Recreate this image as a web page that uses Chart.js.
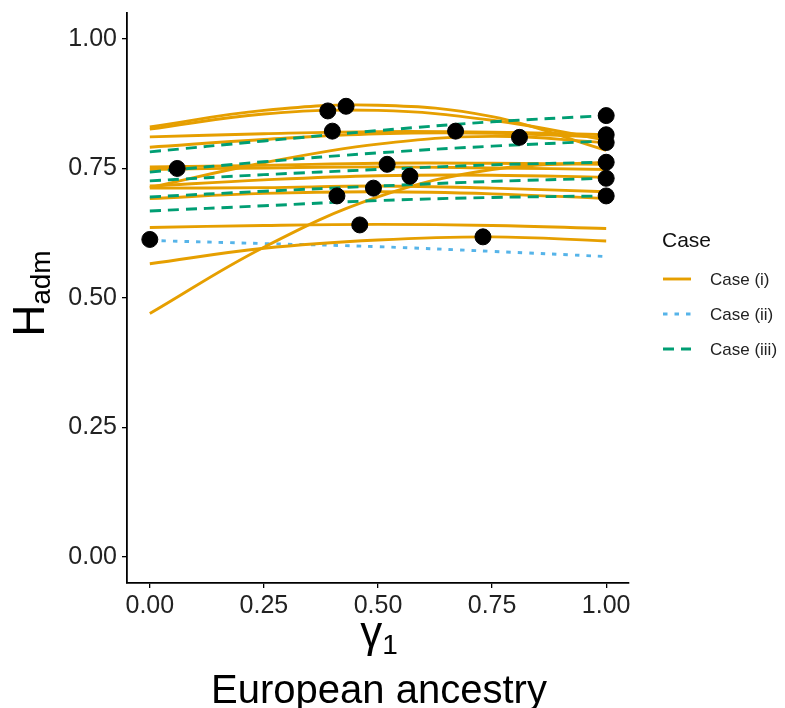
<!DOCTYPE html>
<html>
<head>
<meta charset="utf-8">
<script src="https://cdn.jsdelivr.net/npm/chart.js@4.4.1/dist/chart.umd.min.js"></script>
<style>
  html, body { margin: 0; padding: 0; background: #ffffff; }
  #wrap { width: 785px; height: 708px; position: relative; }
</style>
</head>
<body>
<div id="wrap"><canvas id="c" width="785" height="708"></canvas></div>
<script>
// ---- data ----
const xGrid = [0, 0.25, 0.5, 0.75, 1];           // x positions where curves were read
const xTicks = [0, 0.25, 0.5, 0.75, 1];
const yTicks = [0, 0.25, 0.5, 0.75, 1];

// Case (i) curves (values at xGrid)
const caseI = [
  [0.830, 0.862, 0.872, 0.850, 0.785],
  [0.826, 0.855, 0.862, 0.843, 0.805],
  [0.811, 0.817, 0.821, 0.820, 0.815],
  [0.791, 0.806, 0.817, 0.818, 0.810],
  [0.713, 0.761, 0.797, 0.812, 0.800],
  [0.753, 0.756, 0.760, 0.760, 0.758],
  [0.748, 0.751, 0.753, 0.751, 0.748],
  [0.716, 0.728, 0.736, 0.737, 0.733],
  [0.712, 0.713, 0.716, 0.712, 0.705],
  [0.692, 0.702, 0.705, 0.701, 0.692],
  [0.636, 0.640, 0.642, 0.640, 0.634],
  [0.566, 0.596, 0.612, 0.618, 0.610],
  [0.470, 0.598, 0.695, 0.748, 0.762]
];
// Case (ii) curve
const caseII = [
  [0.611, 0.605, 0.599, 0.590, 0.580]
];
// Case (iii) curves
const caseIII = [
  [0.782, 0.803, 0.823, 0.840, 0.852],
  [0.743, 0.763, 0.780, 0.793, 0.803],
  [0.726, 0.738, 0.748, 0.757, 0.762],
  [0.695, 0.706, 0.716, 0.725, 0.731],
  [0.668, 0.678, 0.688, 0.694, 0.697]
];
// observed populations (points)
const pointX = [0, 0.06, 0.39, 0.40, 0.43, 0.41, 0.46, 0.49, 0.52, 0.57, 0.67, 0.73, 0.81, 1, 1, 1, 1, 1, 1];
const pointY = [0.613, 0.750, 0.861, 0.822, 0.870, 0.697, 0.641, 0.712, 0.758, 0.735, 0.822, 0.618, 0.810, 0.852, 0.815, 0.800, 0.762, 0.731, 0.697];

const caseLabels = ['Case (i)', 'Case (ii)', 'Case (iii)'];

// ---- styles ----
const FONT = '"Liberation Sans", Arimo, Arial, sans-serif';
const styles = [
  { color: '#E69F00', dash: [] },
  { color: '#56B4E9', dash: [4.5, 7] },
  { color: '#009E73', dash: [11, 7] }
];
const LINE_W = 2.9;

function toPts(arr) { return arr.map((v, i) => ({ x: xGrid[i], y: v })); }

const datasets = [];
[caseI, caseII, caseIII].forEach((group, gi) => {
  group.forEach((vals, k) => {
    datasets.push({
      type: 'line',
      label: caseLabels[gi],
      data: toPts(vals),
      borderColor: styles[gi].color,
      borderDash: styles[gi].dash,
      borderWidth: LINE_W,
      borderCapStyle: 'butt',
      pointRadius: 0,
      pointHoverRadius: 0,
      tension: 0.4,
      fill: false,
      order: gi === 2 ? 1 : 2
    });
  });
});
datasets.push({
  type: 'scatter',
  label: 'Populations',
  data: pointX.map((x, i) => ({ x: x, y: pointY[i] })),
  backgroundColor: '#000000',
  borderColor: '#000000',
  pointRadius: 8,
  pointHoverRadius: 8,
  order: 0
});

// ---- custom drawing of axis titles and legend ----
const decorPlugin = {
  id: 'decor',
  afterDraw(chart) {
    const ctx = chart.ctx;
    ctx.save();
    ctx.fillStyle = '#000000';
    ctx.textBaseline = 'alphabetic';

    // y title: H with subscript adm, rotated
    const yMid = 293.5;
    ctx.save();
    ctx.translate(44, yMid);
    ctx.rotate(-Math.PI / 2);
    ctx.font = '44px ' + FONT;
    const wH = ctx.measureText('H').width;
    ctx.font = '28px ' + FONT;
    const wS = ctx.measureText('adm').width;
    const tot = wH + wS;
    ctx.textAlign = 'left';
    ctx.font = '44px ' + FONT;
    ctx.fillText('H', -tot / 2, 0);
    ctx.font = '28px ' + FONT;
    ctx.fillText('adm', -tot / 2 + wH, 6);
    ctx.restore();

    // x title: gamma with subscript 1, then European ancestry
    const xMid = 379;
    ctx.font = '44px ' + FONT;
    const wG = ctx.measureText('\u03b3').width;
    ctx.font = '28px ' + FONT;
    const w1 = ctx.measureText('1').width;
    const tg = wG + w1;
    ctx.textAlign = 'left';
    ctx.font = '44px ' + FONT;
    ctx.fillText('\u03b3', xMid - tg / 2, 647);
    ctx.font = '28px ' + FONT;
    ctx.fillText('1', xMid - tg / 2 + wG, 654);

    ctx.textAlign = 'center';
    ctx.font = '40px ' + FONT;
    ctx.fillText('European ancestry', xMid, 703);

    // legend
    ctx.textAlign = 'left';
    ctx.textBaseline = 'middle';
    ctx.font = '21px ' + FONT;
    ctx.fillStyle = '#111111';
    ctx.fillText('Case', 662, 241);
    ctx.font = '17px ' + FONT;
    caseLabels.forEach((lab, i) => {
      const y = 279 + i * 35;
      ctx.strokeStyle = styles[i].color;
      ctx.lineWidth = LINE_W;
      ctx.setLineDash(styles[i].dash);
      ctx.beginPath();
      ctx.moveTo(663, y);
      ctx.lineTo(691, y);
      ctx.stroke();
      ctx.setLineDash([]);
      ctx.fillStyle = '#222222';
      ctx.fillText(lab, 710, y + 1);
    });
    ctx.restore();
  }
};

const tickFmt = v => Number(v).toFixed(2);

new Chart(document.getElementById('c'), {
  data: { datasets: datasets },
  options: {
    responsive: false,
    animation: false,
    events: [],
    layout: { padding: { left: 0, top: 13, right: 156, bottom: 0 } },
    plugins: { legend: { display: false }, tooltip: { enabled: false }, title: { display: false } },
    scales: {
      x: {
        type: 'linear',
        min: -0.05, max: 1.05,
        afterBuildTicks: s => { s.ticks = xTicks.map(v => ({ value: v })); },
        afterFit: s => { s.height = 708 - 583; s.paddingLeft = 0; s.paddingRight = 0; },
        ticks: { callback: tickFmt, color: '#222222', font: { family: FONT, size: 25 }, padding: 3, maxRotation: 0, autoSkip: false },
        grid: { display: true, drawOnChartArea: false, drawTicks: true, tickLength: 5, color: '#000000', lineWidth: 1.3 },
        border: { display: true, color: '#000000', width: 1.8 }
      },
      y: {
        type: 'linear',
        min: -0.05, max: 1.05,
        afterBuildTicks: s => { s.ticks = yTicks.map(v => ({ value: v })); },
        afterFit: s => { s.width = 127; s.paddingTop = 0; s.paddingBottom = 0; },
        ticks: { callback: tickFmt, color: '#222222', font: { family: FONT, size: 25 }, padding: 5, autoSkip: false },
        grid: { display: true, drawOnChartArea: false, drawTicks: true, tickLength: 5, color: '#000000', lineWidth: 1.3 },
        border: { display: true, color: '#000000', width: 1.8 }
      }
    }
  },
  plugins: [decorPlugin]
});
</script>
</body>
</html>
